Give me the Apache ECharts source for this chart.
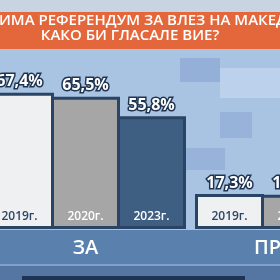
<!DOCTYPE html>
<html><head><meta charset="utf-8">
<script src="https://cdn.jsdelivr.net/npm/echarts@6/dist/echarts.min.js"></script>
<style>html,body{margin:0;padding:0;background:#a9c3e2;}#c{width:280px;height:280px;}</style>
</head><body><div id="c"></div>
<script>
// ---- data ----
const groups = ['ЗА', 'ПРОТИВ'];
const years = ['2019г.', '2020г.', '2023г.'];
const v2019 = [67.4, 17.3];
const v2020 = [65.5, 16.9];
const v2023 = [55.8, 20.5];
const titleLine1 = 'ИМА РЕФЕРЕНДУМ ЗА ВЛЕЗ НА МАКЕДОНИЈА';
const titleLine2 = 'КАКО БИ ГЛАСАЛЕ ВИЕ?';

// ---- styles ----
const fills = ['#eff0f2', '#a6a6a6', '#3e5e82'];
const yearColors = ['#2d4566', '#ffffff', '#ffffff'];
const border = '#2a4465';
const FONT = '"Open Sans", "Liberation Sans", sans-serif';
const valuesByYear = [v2019, v2020, v2023];
const fmt = v => v.toFixed(1).replace('.', ',') + '%';
const BW = 69;
const GAP = '-4.35%';

const series = [];
years.forEach((y, i) => {
  series.push({
    type: 'bar', name: y, stack: 's' + i, barWidth: BW, barGap: GAP,
    data: valuesByYear[i],
    itemStyle: { color: fills[i], borderColor: border, borderWidth: 3 },
    label: { show: true, position: 'insideBottom', distance: 6, formatter: y,
      color: yearColors[i], fontSize: 12, fontWeight: 600, fontFamily: FONT },
    z: 3
  });
  series.push({
    type: 'bar', name: y + ' label', stack: 's' + i, barWidth: BW, barGap: GAP,
    data: valuesByYear[i].map(() => 0),
    itemStyle: { color: 'transparent', borderWidth: 0 },
    label: { show: true, position: 'top', distance: 3,
      formatter: p => fmt(valuesByYear[i][p.dataIndex]),
      color: '#ffffff', fontSize: 16, fontWeight: 'bold', fontFamily: FONT,
      textBorderColor: '#1e3350', textBorderWidth: 3 },
    z: 4
  });
});

const bg = [
  { type: 'rect', shape: { x: 0, y: 0, width: 280, height: 280 }, style: { fill: '#a9c3e2' }, z: -100 },
  { type: 'rect', shape: { x: 180, y: 58, width: 40, height: 24 }, style: { fill: '#94afd8' }, z: -99 },
  { type: 'rect', shape: { x: 220, y: 68, width: 60, height: 30 }, style: { fill: '#bcd2ec' }, z: -99 },
  { type: 'rect', shape: { x: 220, y: 112, width: 32, height: 26 }, style: { fill: '#98b3da' }, z: -99 },
  { type: 'rect', shape: { x: 185, y: 148, width: 40, height: 22 }, style: { fill: '#98b3da' }, z: -99 },
  { type: 'rect', shape: { x: 0, y: 0, width: 280, height: 12 }, style: { fill: '#c8d4e2' }, z: -98 },
  { type: 'rect', shape: { x: 0, y: 12, width: 280, height: 37 }, style: { fill: '#e4673b' }, z: -98 },
  { type: 'rect', shape: { x: 0, y: 230, width: 280, height: 50 }, style: { fill: '#5a80ae' }, z: -98 },
  { type: 'rect', shape: { x: 0, y: 264, width: 280, height: 2 }, style: { fill: '#7fa0c8' }, z: -97 },
  { type: 'rect', shape: { x: 0, y: 266, width: 280, height: 14 }, style: { fill: '#5576a3' }, z: -97 },
  { type: 'rect', shape: { x: 22, y: 276, width: 223, height: 4 }, style: { fill: '#1f3454' }, z: -96 },
  { type: 'text', x: -1, y: 21, style: { text: titleLine1, fill: '#ffffff', font: '600 15px ' + FONT, textVerticalAlign: 'middle' }, z: 10 },
  { type: 'text', x: 130, y: 36, style: { text: titleLine2, fill: '#ffffff', font: '600 15px ' + FONT, textAlign: 'center', textVerticalAlign: 'middle' }, z: 10 }
];

const chart = echarts.init(document.getElementById('c'));
chart.setOption({
  animation: false,
  backgroundColor: 'transparent',
  graphic: bg,
  grid: { left: -19.5, right: -120.5, top: 27, bottom: 51, containLabel: false, outerBoundsMode: 'none' },
  xAxis: { type: 'category', data: groups, axisLine: { show: false }, axisTick: { show: false },
    axisLabel: { color: '#ffffff', fontSize: 20, fontWeight: 600, fontFamily: FONT, margin: 9 } },
  yAxis: { type: 'value', min: 0, max: 100, show: false },
  series: series
});
</script>
</body></html>
